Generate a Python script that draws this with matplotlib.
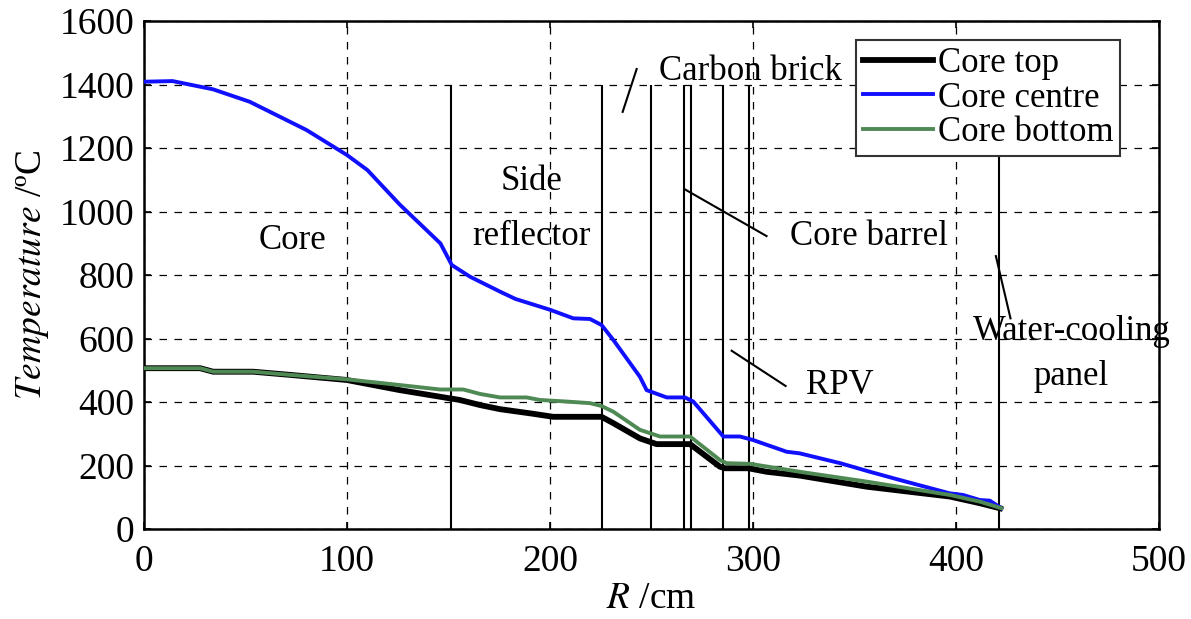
import numpy as np
import matplotlib
matplotlib.use("Agg")
import matplotlib.pyplot as plt

plt.rcParams['font.family'] = 'serif'
plt.rcParams['font.serif'] = ['Liberation Serif', 'DejaVu Serif']
plt.rcParams['mathtext.fontset'] = 'stix'
plt.rcParams['font.size'] = 25

# radial temperature profiles (R in cm, T in degC)
r_top = [0, 27.6, 34, 53.7, 71.9, 99.8, 126, 150.7, 155.6, 165.5, 175.4, 190.1, 201.6,
         225.4, 231.2, 244.3, 252.5, 269, 283.7, 286.2, 297.7, 306.7, 323, 356, 397,
         411.8, 421.7]
t_top = [507, 507, 496, 496, 486, 470, 438, 412, 407, 391, 378, 365, 354,
         354, 334, 286, 268, 268, 197, 192, 192, 181, 169, 134, 103,
         82, 66]

r_centre = [0, 14, 34, 52, 80, 100, 110, 126, 146, 151.6, 160.6, 175.4, 183, 200,
            211.5, 219.7, 225.4, 231.2, 244.3, 247.6, 257.5, 266.5, 270.6, 285.4,
            293.6, 300, 316.6, 323, 343, 357.6, 372.4, 397, 403.5, 411.8, 416.7, 422.5]
t_centre = [1409, 1411, 1385, 1346, 1257, 1178, 1131, 1022, 900, 832, 795, 748, 725, 691,
            664, 662, 643, 596, 480, 438, 415, 415, 402, 292,
            292, 281, 244, 239, 208, 181, 155, 113, 108, 92, 90, 66]

r_bottom = [0, 27.6, 34, 53.7, 71.9, 99.8, 126, 145.8, 157.3, 165.5, 175.4, 188.5, 195,
            208.2, 219.7, 225.4, 231.2, 244.3, 254.2, 269, 283.7, 287, 298.5, 323, 356,
            397, 411.8, 422.5]
t_bottom = [507, 507, 496, 496, 486, 472, 454, 440, 440, 426, 415, 415, 407,
            402, 397, 388, 370, 313, 292, 292, 218, 208, 206, 181, 150,
            108, 87, 66]

# material boundaries
boundaries = [151, 225.5, 250, 266, 269.5, 285, 298, 421]
boundary_top = 1400

# region labels: (text, x, y)
labels = [("Core", 73, 910), ("Side", 191, 1094), ("reflector", 191, 921),
          ("Carbon brick", 299, 1440), ("Core barrel", 357, 923), ("RPV", 343, 451),
          ("Water-cooling", 457, 622), ("panel", 457, 480)]
# leader lines: ((x0, x1), (y0, y1))
leaders = [((235.8, 242.7), (1314, 1449)), ((266.2, 306.7), (1071, 923)),
           ((289.5, 316.1), (562, 451)), ((419.7, 426.9), (860, 664))]

fig = plt.figure(figsize=(11.91, 6.19), dpi=100)
ax = fig.add_axes([0.121, 0.145, 0.852, 0.821])

ax.grid(True, color='black', linestyle=(0, (6, 6)), linewidth=0.9)
ax.set_axisbelow(True)

ax.vlines(boundaries, 0, boundary_top, colors='black', linewidth=1.5, zorder=2)
for xs, ys in leaders:
    ax.plot(xs, ys, color='black', linewidth=1.5, zorder=2)

ax.plot(r_top, t_top, color='black', linewidth=4.2, label='Core top', zorder=3)
ax.plot(r_centre, t_centre, color='#1010ff', linewidth=2.8, label='Core centre', zorder=3)
ax.plot(r_bottom, t_bottom, color='#4f8a55', linewidth=2.8, label='Core bottom', zorder=3)

for txt, x, y in labels:
    ax.text(x, y, txt, ha='center', va='center', fontsize=25, zorder=4)

ax.set_xlim(0, 500)
ax.set_ylim(0, 1600)
ax.set_xticks(np.arange(0, 501, 100))
ax.set_yticks(np.arange(0, 1601, 200))
ax.tick_params(direction='in', top=True, right=True, labelsize=27, length=5,
               width=1.2, pad=7)
ax.tick_params(axis='x', pad=11)
for s in ax.spines.values():
    s.set_linewidth(1.8)

ax.set_xlabel(r"$R$ /cm", fontsize=27, labelpad=2)
ax.set_ylabel(r"$\mathit{Temperature}$ /ºC", fontsize=27, labelpad=6)

leg = ax.legend(loc='upper right', bbox_to_anchor=(0.962, 0.963), borderaxespad=0,
                fontsize=25, handlelength=2.0, handletextpad=0.15, labelspacing=0.05,
                borderpad=0.2, fancybox=False, framealpha=1, edgecolor='#333333')
leg.get_frame().set_linewidth(1.5)
leg.set_zorder(5)

fig.savefig("out.png", dpi=100)
